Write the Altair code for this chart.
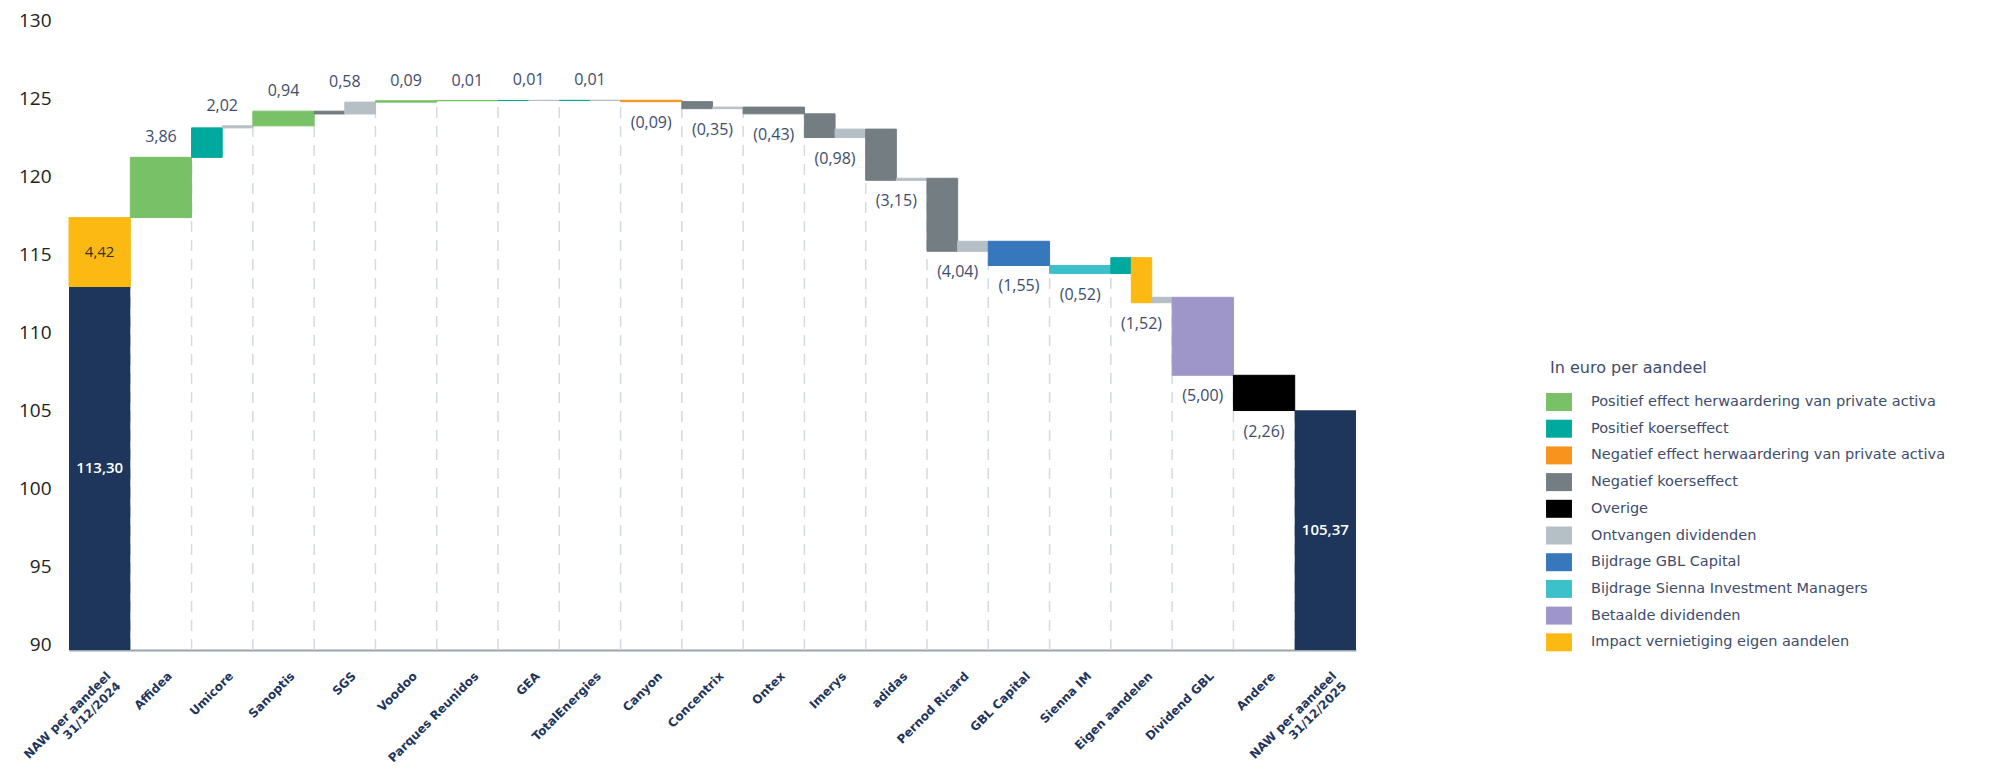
import altair as alt
import pandas as pd

categories = [
    "NAW per aandeel\n31/12/2024", "Affidea", "Umicore", "Sanoptis", "SGS", "Voodoo",
    "Parques Reunidos", "GEA", "TotalEnergies", "Canyon", "Concentrix", "Ontex", "Imerys",
    "adidas", "Pernod Ricard", "GBL Capital", "Sienna IM", "Eigen aandelen", "Dividend GBL",
    "Andere", "NAW per aandeel\n31/12/2025",
]
nav_start = 113.30
nav_end = 105.37
change_totals = [4.42, 3.86, 2.02, 0.94, 0.58, 0.09, 0.01, 0.01, 0.01, -0.09, -0.35, -0.43,
                 -0.98, -3.15, -4.04, -1.55, -0.52, -1.52, -5.00, -2.26]

PE = "Positief effect herwaardering van private activa"
PK = "Positief koerseffect"
NE = "Negatief effect herwaardering van private activa"
NK = "Negatief koerseffect"
OV = "Overige"
OD = "Ontvangen dividenden"
GB = "Bijdrage GBL Capital"
SI = "Bijdrage Sienna Investment Managers"
BD = "Betaalde dividenden"
IV = "Impact vernietiging eigen aandelen"

seg_category = [0, 1, 2, 2, 3, 4, 4, 5, 6, 7, 7, 8, 8, 9, 10, 10, 11, 12, 12, 13, 13, 14, 14,
                15, 16, 17, 17, 17, 18, 19]
seg_type = [IV, PE, PK, OD, PE, NK, OD, PE, PE, PK, OD, PK, OD, NE, NK, OD, NK, NK, OD, NK, OD,
            NK, OD, GB, SI, PK, IV, OD, BD, OV]
seg_value = [4.42, 3.86, 1.89, 0.13, 0.94, -0.18, 0.76, 0.09, 0.01, 0.01, 0.00, 0.00, 0.01,
             -0.09, -0.45, 0.10, -0.43, -1.52, 0.54, -3.28, 0.13, -4.68, 0.64, -1.55, -0.52,
             1.02, -2.89, 0.35, -5.00, -2.26]

legend_types = [PE, PK, NE, NK, OV, OD, GB, SI, BD, IV]
legend_colors = ["#78c166", "#00a99d", "#f7941d", "#737d82", "#000000", "#b4bfc6",
                 "#3777bc", "#3cc0ca", "#9e96c8", "#fdb913"]
y_ticks = [90, 95, 100, 105, 110, 115, 120, 125, 130]
base_y = 90
NAVY = "#1f365c"
TEXT = "#3e4c6d"


def fmt(v):
    s = f"{abs(v):.2f}".replace(".", ",")
    return f"({s})" if v < 0 else s


# segments of the waterfall
rows = []
level = nav_start
counts = {c: seg_category.count(c) for c in set(seg_category)}
seen = {}
for c, t, v in zip(seg_category, seg_type, seg_value):
    k = seen.get(c, 0)
    seen[c] = k + 1
    n = counts[c]
    rows.append(dict(cat=c, type=t, x0=c + k / n, x1=c + (k + 1) / n, y0=level, y1=level + v))
    level += v
segs = pd.DataFrame(rows)

# dashed separators
grid = []
for b in range(1, len(categories)):
    bottoms = []
    left = segs[segs.cat == b - 1]
    if len(left):
        r = left.iloc[-1]
        bottoms.append(min(r.y0, r.y1))
    right = segs[segs.cat == b]
    if len(right):
        r = right.iloc[0]
        bottoms.append(min(r.y0, r.y1))
    grid.append(dict(x=b, y0=base_y, y1=max(bottoms)))
grid = pd.DataFrame(grid)

# value labels
lab = []
for c in range(1, len(change_totals)):
    s = segs[segs.cat == c]
    top = max(s.y0.max(), s.y1.max())
    bot = min(s.y0.min(), s.y1.min())
    v = change_totals[c]
    lab.append(dict(x=c + 0.5, y=top if v > 0 else bot, text=fmt(v), pos=bool(v > 0)))
lab = pd.DataFrame(lab)

navs = pd.DataFrame([
    dict(x0=0, x1=1, y0=base_y, y1=nav_start),
    dict(x0=len(categories) - 1, x1=len(categories), y0=base_y, y1=nav_end),
])
inner = pd.DataFrame([
    dict(x=0.5, y=(base_y + nav_start) / 2, text=fmt(nav_start), kind="nav"),
    dict(x=0.5, y=nav_start + change_totals[0] / 2, text=fmt(change_totals[0]), kind="chg"),
    dict(x=len(categories) - 0.5, y=(base_y + nav_end) / 2, text=fmt(nav_end), kind="nav"),
])

xs = alt.Scale(domain=[0, len(categories)], nice=False, zero=False)
ys = alt.Scale(domain=[90, 130], nice=False, zero=False)
cs = alt.Scale(domain=legend_types, range=legend_colors)


def js(s):
    return "'" + s.replace("'", "\\'") + "'"


parts = []
for c in categories:
    if "\n" in c:
        parts.append("[" + ",".join(js(p) for p in c.split("\n")) + "]")
    else:
        parts.append(js(c))
label_expr = "[" + ",".join(parts) + "][floor(datum.value)]"

x_axis = alt.Axis(
    values=[i + 0.5 for i in range(len(categories))], labelExpr=label_expr, title=None,
    grid=False, ticks=False, domainColor="#9aa4ac", domainWidth=2, labelAngle=-45,
    labelAlign="right", labelBaseline="top", labelPadding=20, labelOffset=5,
    labelFont="DejaVu Sans", labelFontWeight="bold", labelFontSize=12, labelColor=NAVY,
    labelOverlap=False, labelBound=False, labelFlush=False, labelLineHeight=14,
)
y_axis = alt.Axis(
    values=y_ticks, title=None, grid=False, ticks=False, domain=False, labelFontSize=19,
    labelFont="Open Sans", labelColor="#222222", labelPadding=18, labelOffset=-6, format="d",
)


def X(f):
    return alt.X(f, type="quantitative", scale=xs, axis=x_axis, title=None)


def Y(f):
    return alt.Y(f, type="quantitative", scale=ys, axis=y_axis, title=None)


rules = alt.Chart(grid).mark_rule(color="#d3dae1", strokeWidth=1.5, strokeDash=[11, 8]).encode(
    x=X("x"), y=Y("y0"), y2="y1:Q",
)

nav_bars = alt.Chart(navs).mark_rect(color=NAVY).encode(
    x=X("x0"), x2="x1:Q", y=Y("y0"), y2="y1:Q",
)

bars = alt.Chart(segs).mark_rect(strokeWidth=1).encode(
    x=X("x0"), x2="x1:Q", y=Y("y0"), y2="y1:Q",
    color=alt.Color("type:N", scale=cs, legend=alt.Legend(
        orient="none", legendX=1481, legendY=334, title="In euro per aandeel",
        titleFontSize=16, titleFont="DejaVu Sans", titleColor=TEXT, titleFontWeight="normal",
        titlePadding=17, labelFontSize=14.5, labelFont="DejaVu Sans", labelColor=TEXT,
        labelLimit=0, titleLimit=0,
        symbolType="M-1.44,-1H1.44V1H-1.44Z", symbolSize=324, symbolStrokeWidth=0,
        symbolOpacity=1, rowPadding=8.7, labelOffset=23, values=legend_types,
    )),
    stroke=alt.Stroke("type:N", scale=cs, legend=None),
)

text_style = dict(font="Open Sans", fontSize=16, color=TEXT)
pos_labels = alt.Chart(lab).transform_filter("datum.pos").mark_text(
    baseline="middle", dy=-20, **text_style).encode(x=X("x"), y=Y("y"), text="text:N")
neg_labels = alt.Chart(lab).transform_filter("!datum.pos").mark_text(
    baseline="middle", dy=21, **text_style).encode(x=X("x"), y=Y("y"), text="text:N")

inner_nav = alt.Chart(inner).transform_filter("datum.kind == 'nav'").mark_text(
    baseline="middle", font="Open Sans", fontSize=15, fontWeight=600, color="white").encode(
    x=X("x"), y=Y("y"), text="text:N")
inner_chg = alt.Chart(inner).transform_filter("datum.kind == 'chg'").mark_text(
    baseline="middle", font="Open Sans", fontSize=15, color="#333333").encode(
    x=X("x"), y=Y("y"), text="text:N")

chart = alt.layer(rules, nav_bars, bars, pos_labels, neg_labels, inner_nav, inner_chg).properties(
    width=1287, height=624,
    padding={"left": 61, "top": 18, "right": 620, "bottom": 118},
    autosize=alt.AutoSizeParams(type="none"),
).configure_view(stroke=None)

chart.save("out.html", embed_options={"renderer": "svg", "actions": False})
